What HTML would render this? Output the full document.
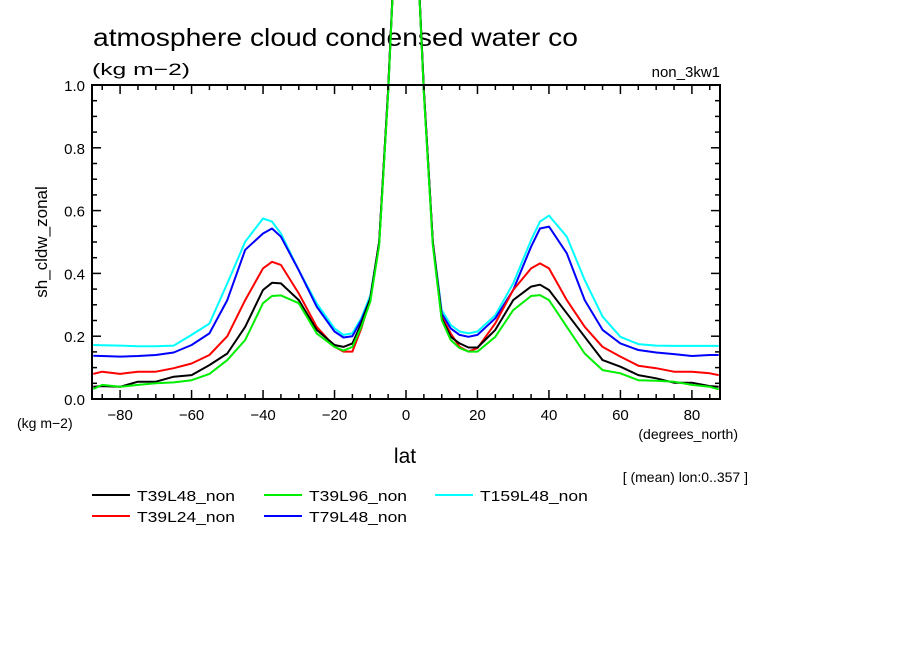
<!DOCTYPE html>
<html><head><meta charset="utf-8"><style>
html,body{margin:0;padding:0;background:#fff;}
svg{display:block;font-family:"Liberation Sans",sans-serif;}
</style></head><body>
<svg id="chart" width="904" height="654" viewBox="0 0 904 654">
<text x="93" y="46" font-size="25" textLength="485" lengthAdjust="spacingAndGlyphs">atmosphere cloud condensed water co</text>
<text x="92" y="75" font-size="17" textLength="98" lengthAdjust="spacingAndGlyphs">(kg m−2)</text>
<text x="720" y="77" font-size="15" text-anchor="end">non_3kw1</text>
<g id="series"></g>
<g id="axes"></g>
<text x="47" y="242" font-size="17" text-anchor="middle" transform="rotate(-90 47 242)">sh_cldw_zonal</text>
<text x="17" y="428" font-size="14">(kg m−2)</text>
<text x="738" y="439" font-size="14" text-anchor="end">(degrees_north)</text>
<text x="405" y="463" font-size="21" text-anchor="middle">lat</text>
<text x="748" y="482" font-size="14" text-anchor="end">[ (mean) lon:0..357 ]</text>
<g id="legend"></g>
</svg>
<script>
const lats = [-87.5,-85,-80,-75,-70,-65,-60,-55,-50,-45,-40,-37.5,-35,-30,-25,-20,-17.5,-15,-12.5,-10,-7.5,-5,-2.5,0,2.5,5,7.5,10,12.5,15,17.5,20,25,30,35,37.5,40,45,50,55,60,65,70,75,80,85,87.5];
const seriesNames = ["T39L48_non","T39L24_non","T39L96_non","T79L48_non","T159L48_non"];
const seriesColors = ["#000000","#ff0000","#00ee00","#0000ff","#00ffff"];
const black = [0.039,0.041,0.039,0.055,0.055,0.071,0.076,0.108,0.145,0.23,0.347,0.37,0.368,0.315,0.22,0.172,0.166,0.177,0.24,0.32,0.5,0.98,1.6,1.9,1.6,0.98,0.5,0.257,0.198,0.177,0.164,0.164,0.22,0.315,0.358,0.364,0.347,0.273,0.198,0.124,0.103,0.076,0.066,0.052,0.052,0.041,0.039];
const red = [0.08,0.087,0.08,0.087,0.087,0.098,0.113,0.14,0.2,0.315,0.416,0.437,0.427,0.336,0.23,0.167,0.151,0.151,0.225,0.32,0.5,0.98,1.6,1.9,1.6,0.98,0.5,0.262,0.209,0.166,0.151,0.162,0.241,0.347,0.416,0.432,0.416,0.315,0.23,0.166,0.135,0.106,0.098,0.087,0.087,0.082,0.076];
const green = [0.032,0.045,0.039,0.045,0.05,0.053,0.06,0.08,0.124,0.188,0.305,0.328,0.33,0.305,0.209,0.166,0.154,0.166,0.23,0.31,0.49,0.97,1.6,1.9,1.6,0.97,0.49,0.252,0.188,0.162,0.151,0.151,0.198,0.283,0.328,0.331,0.315,0.23,0.145,0.092,0.082,0.06,0.058,0.055,0.045,0.039,0.031];
const blue = [0.138,0.137,0.135,0.137,0.14,0.148,0.172,0.209,0.315,0.475,0.527,0.543,0.517,0.41,0.294,0.215,0.196,0.2,0.251,0.32,0.5,0.98,1.6,1.9,1.6,0.98,0.5,0.272,0.225,0.204,0.198,0.204,0.257,0.347,0.485,0.543,0.549,0.464,0.315,0.22,0.177,0.156,0.148,0.143,0.137,0.14,0.14];
const cyan = [0.172,0.171,0.17,0.168,0.168,0.17,0.204,0.24,0.368,0.501,0.575,0.565,0.527,0.41,0.304,0.225,0.204,0.209,0.257,0.33,0.5,0.98,1.6,1.9,1.6,0.98,0.5,0.283,0.236,0.215,0.209,0.215,0.267,0.368,0.506,0.565,0.584,0.517,0.379,0.262,0.198,0.175,0.17,0.169,0.169,0.169,0.169];
const xTicks = [-80,-60,-40,-20,0,20,40,60,80];
const yTicks = [0.0,0.2,0.4,0.6,0.8,1.0];

const NS="http://www.w3.org/2000/svg";
const L=92,R=720,T=85,B=399,XMIN=-87.86,XMAX=87.86,YMIN=0,YMAX=1;
function xs(v){return L+(v-XMIN)/(XMAX-XMIN)*(R-L);}
function ys(v){return B-(v-YMIN)/(YMAX-YMIN)*(B-T);}
function mk(tag,attrs,parent){const e=document.createElementNS(NS,tag);for(const k in attrs)e.setAttribute(k,attrs[k]);parent.appendChild(e);return e;}

const sg=document.getElementById('series');
const allSeries=[black,red,green,blue,cyan];
const order=[4,3,1,0,2];
order.forEach(i=>{
  const d=lats.map((la,j)=>(j?'L':'M')+xs(la).toFixed(1)+','+ys(allSeries[i][j]).toFixed(1)).join('');
  const p=mk('path',{d:d,fill:'none',stroke:seriesColors[i],'stroke-width':2,'stroke-linejoin':'round'},sg);
  
  
});

const ag=document.getElementById('axes');
const fr=mk('rect',{x:L,y:T,width:R-L,height:B-T,fill:'none',stroke:'#000','stroke-width':2},ag);


for(let v=-85;v<=85;v+=5){
  const x=xs(v);const len=(v%20===0)?9:5;
  mk('line',{x1:x,y1:B,x2:x,y2:B-len,stroke:'#000','stroke-width':1.5},ag);
  mk('line',{x1:x,y1:T,x2:x,y2:T+len,stroke:'#000','stroke-width':1.5},ag);
}
for(let k=0;k<=20;k++){
  const v=k*0.05;const y=ys(v);const len=(k%4===0)?9:5;
  mk('line',{x1:L,y1:y,x2:L+len,y2:y,stroke:'#000','stroke-width':1.5},ag);
  mk('line',{x1:R,y1:y,x2:R-len,y2:y,stroke:'#000','stroke-width':1.5},ag);
}
xTicks.forEach(v=>{
  const t=mk('text',{x:xs(v),y:B+21,'font-size':15,'text-anchor':'middle'},ag);
  t.textContent=(v<0?'−':'')+Math.abs(v);
  
  
});
yTicks.forEach(v=>{
  const t=mk('text',{x:L-7,y:ys(v)+6,'font-size':15,'text-anchor':'end'},ag);
  t.textContent=v.toFixed(1);
  
  
});

const lg=document.getElementById('legend');
const lpos=[[92,495],[92,516],[264,495],[264,516],[435,495]];
seriesNames.forEach((n,i)=>{
  const [x,y]=lpos[i];
  const g=mk('g',{},lg);
  
  
  mk('line',{x1:x,y1:y,x2:x+38,y2:y,stroke:seriesColors[i],'stroke-width':2},g);
  const t=mk('text',{x:x+45,y:y+6,'font-size':15,textLength:n.length*9.8,lengthAdjust:'spacingAndGlyphs'},g);
  t.textContent=n;
});
</script>
</body></html>
